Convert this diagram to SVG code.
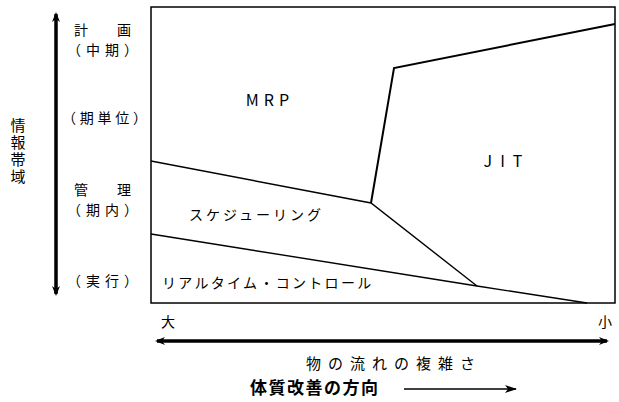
<svg xmlns="http://www.w3.org/2000/svg" width="619" height="402" viewBox="0 0 619 402">
<style>
text{font-family:"Noto Sans CJK JP","Liberation Serif",serif;fill:#000}
.lbl{font-size:14px}
.ln{stroke:#000;fill:none;stroke-width:1.4}
.thick{stroke:#000;fill:none;stroke-width:2}
.ax{stroke:#000;stroke-width:3.5;fill:none}
</style>
<defs>
<marker id="ah" markerWidth="10" markerHeight="8" refX="8" refY="4" orient="auto-start-reverse" markerUnits="userSpaceOnUse">
<path d="M0,0 L10,4 L0,8 L3,4 Z" fill="#000"/>
</marker>
<marker id="ahs" markerWidth="12" markerHeight="8" refX="11" refY="4" orient="auto" markerUnits="userSpaceOnUse">
<path d="M0,0 L12,4 L0,8 L3,4 Z" fill="#000"/>
</marker>
</defs>
<rect x="0" y="0" width="619" height="402" fill="#fff"/>
<g id="frame"><rect x="151" y="7" width="464" height="296" fill="none" stroke="#000" stroke-width="1.5"/></g>
<g id="connectors">
<polyline class="thick" points="615,24 394,68 371,203"/>
<polyline class="ln" points="151,161 371,203 477,286"/>
<polyline class="ln" points="151,234 477,286 587,303"/>
<line class="ax" x1="56" y1="14" x2="56" y2="294" marker-start="url(#ah)" marker-end="url(#ah)"/>
<line class="ax" x1="157" y1="341" x2="607" y2="341" marker-start="url(#ah)" marker-end="url(#ah)"/>
<line x1="404" y1="389" x2="516" y2="389" stroke="#000" stroke-width="1.3" marker-end="url(#ahs)"/>
</g>
<g id="MRP"><text x="270" y="106" font-size="16" text-anchor="middle" font-family="Liberation Serif" letter-spacing="5">MRP</text></g>
<g id="JIT"><text x="507" y="167" font-size="16" text-anchor="middle" font-family="Liberation Serif" letter-spacing="8">JIT</text></g>
<g id="scheduling"><text x="189" y="220" class="lbl" letter-spacing="3">スケジューリング</text></g>
<g id="realtime"><text x="162" y="288" class="lbl" letter-spacing="2.3">リアルタイム・コントロール</text></g>
<g id="ylabels">
<text x="74" y="35" class="lbl" textLength="57" lengthAdjust="spacing">計　画</text>
<text x="67" y="55" class="lbl" textLength="71" lengthAdjust="spacing">（中期）</text>
<text x="62" y="123" class="lbl" textLength="85" lengthAdjust="spacing">（期単位）</text>
<text x="74" y="195" class="lbl" textLength="57" lengthAdjust="spacing">管　理</text>
<text x="67" y="215" class="lbl" textLength="71" lengthAdjust="spacing">（期内）</text>
<text x="67" y="286" class="lbl" textLength="71" lengthAdjust="spacing">（実行）</text>
</g>
<g id="yaxis">
<text x="18" y="118" font-size="15" writing-mode="vertical-rl" letter-spacing="2">情報帯域</text>
</g>
<g id="xaxis">
<text x="161" y="327" class="lbl">大</text>
<text x="598" y="327" class="lbl">小</text>
<text x="306" y="369" font-size="15" letter-spacing="7">物の流れの複雑さ</text>
<text x="250" y="394" font-size="17" font-weight="bold" letter-spacing="1.5">体質改善の方向</text>
</g>
</svg>
